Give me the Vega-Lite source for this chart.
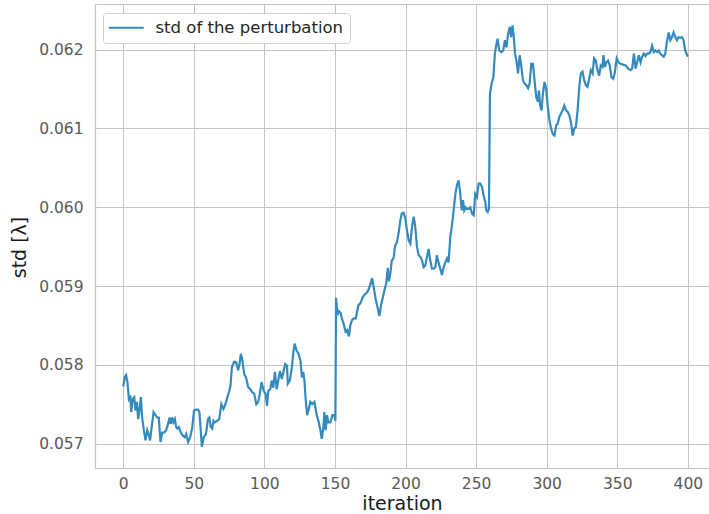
{
  "$schema": "https://vega.github.io/schema/vega-lite/v6.json",
  "width": 614,
  "height": 464,
  "autosize": {"type": "none"},
  "padding": {"left": 95, "top": 4, "right": 0, "bottom": 46},
  "background": "white",
  "config": {
    "view": {"stroke": null},
    "font": "DejaVu Sans",
    "axis": {
      "domainColor": "#c4c4c4",
      "domainWidth": 1.2,
      "gridColor": "#c4c4c4",
      "gridWidth": 1,
      "gridOpacity": 1,
      "ticks": false,
      "labelFont": "DejaVu Sans",
      "labelFontSize": 15.5,
      "labelColor": "#595959",
      "titleFont": "DejaVu Sans",
      "titleFontSize": 19,
      "titleFontWeight": "normal",
      "titleColor": "#1a1a1a"
    }
  },
  "resolve": {"axis": {"x": "independent"}},
  "data": {
    "values": [
      {"i":0,"v":0.057725},{"i":1.2,"v":0.05785},{"i":2,"v":0.05787},{"i":3,"v":0.05778},{"i":4,"v":0.05757},{"i":5,"v":0.05761},{"i":5.6,"v":0.0574},{"i":6.8,"v":0.05757},{"i":7.8,"v":0.05759},{"i":8.7,"v":0.05742},{"i":9.7,"v":0.05753},{"i":10.6,"v":0.05731},{"i":11.6,"v":0.05744},{"i":12.5,"v":0.05759},{"i":13.4,"v":0.05733},{"i":14.6,"v":0.05717},{"i":15.8,"v":0.05704},{"i":17,"v":0.05717},{"i":18,"v":0.05712},{"i":19,"v":0.05704},{"i":20,"v":0.05719},{"i":21.5,"v":0.0574},{"i":22.9,"v":0.05736},{"i":24.3,"v":0.05733},{"i":25.2,"v":0.05733},{"i":26.4,"v":0.05702},{"i":27.6,"v":0.05714},{"i":29,"v":0.05714},{"i":30.4,"v":0.05717},{"i":31.8,"v":0.05725},{"i":32.8,"v":0.05733},{"i":33.7,"v":0.05725},{"i":34.7,"v":0.05733},{"i":35.6,"v":0.05727},{"i":36.6,"v":0.05731},{"i":37.5,"v":0.05721},{"i":38.4,"v":0.05719},{"i":39.4,"v":0.05721},{"i":40.8,"v":0.05714},{"i":42.2,"v":0.0571},{"i":43.6,"v":0.05708},{"i":44.6,"v":0.05712},{"i":46,"v":0.05702},{"i":47.4,"v":0.05708},{"i":48.8,"v":0.05719},{"i":50.2,"v":0.05742},{"i":51.6,"v":0.05743},{"i":53,"v":0.05743},{"i":54,"v":0.0574},{"i":54.9,"v":0.05717},{"i":55.7,"v":0.05696},{"i":57,"v":0.05708},{"i":58.6,"v":0.05712},{"i":60,"v":0.05731},{"i":61,"v":0.05733},{"i":62,"v":0.05721},{"i":63,"v":0.05719},{"i":64,"v":0.05729},{"i":65,"v":0.05727},{"i":66.7,"v":0.05729},{"i":68,"v":0.05731},{"i":69.5,"v":0.0575},{"i":71,"v":0.05744},{"i":72.4,"v":0.0575},{"i":73.8,"v":0.05759},{"i":75.2,"v":0.05767},{"i":76,"v":0.05774},{"i":77,"v":0.05797},{"i":78.6,"v":0.05804},{"i":80,"v":0.05803},{"i":81.4,"v":0.05793},{"i":82.4,"v":0.05801},{"i":83.3,"v":0.05814},{"i":84.3,"v":0.05807},{"i":85.7,"v":0.05788},{"i":87,"v":0.05784},{"i":88.5,"v":0.05772},{"i":90,"v":0.05769},{"i":91.4,"v":0.05765},{"i":92.8,"v":0.05763},{"i":94.3,"v":0.0575},{"i":95.7,"v":0.05753},{"i":97.1,"v":0.05767},{"i":98,"v":0.05778},{"i":99.5,"v":0.05767},{"i":100.9,"v":0.05763},{"i":101.9,"v":0.05748},{"i":102.8,"v":0.05767},{"i":104.2,"v":0.05769},{"i":105.2,"v":0.0578},{"i":106.3,"v":0.05771},{"i":107.5,"v":0.05791},{"i":108.7,"v":0.05769},{"i":110,"v":0.05782},{"i":111,"v":0.05792},{"i":112.4,"v":0.05782},{"i":113.6,"v":0.05792},{"i":114.8,"v":0.05801},{"i":116,"v":0.05799},{"i":116.6,"v":0.05776},{"i":118,"v":0.0578},{"i":119.5,"v":0.05797},{"i":120.4,"v":0.05814},{"i":121.4,"v":0.05827},{"i":122.8,"v":0.05818},{"i":124.2,"v":0.05814},{"i":125.6,"v":0.05805},{"i":126.6,"v":0.05784},{"i":127.5,"v":0.05791},{"i":128.4,"v":0.0578},{"i":129.3,"v":0.05755},{"i":130.3,"v":0.05736},{"i":131.2,"v":0.05742},{"i":132.6,"v":0.05753},{"i":134,"v":0.0575},{"i":135.5,"v":0.05753},{"i":136.9,"v":0.05738},{"i":138.3,"v":0.05729},{"i":139.7,"v":0.05717},{"i":140.6,"v":0.05706},{"i":141.8,"v":0.05721},{"i":142.5,"v":0.0574},{"i":143.4,"v":0.05717},{"i":144.4,"v":0.05736},{"i":145.3,"v":0.05727},{"i":146.7,"v":0.05727},{"i":148.2,"v":0.05736},{"i":149.6,"v":0.05736},{"i":150.3,"v":0.05729},{"i":150.8,"v":0.05885},{"i":151.8,"v":0.05863},{"i":152.8,"v":0.05868},{"i":154,"v":0.05866},{"i":155.2,"v":0.05857},{"i":156.3,"v":0.05851},{"i":157.5,"v":0.05842},{"i":158.7,"v":0.05844},{"i":159.9,"v":0.05836},{"i":161,"v":0.05851},{"i":162.2,"v":0.05857},{"i":163.4,"v":0.05859},{"i":164.8,"v":0.05859},{"i":165.7,"v":0.05868},{"i":166.7,"v":0.05876},{"i":168,"v":0.05878},{"i":169.5,"v":0.05885},{"i":170.9,"v":0.05889},{"i":172.3,"v":0.05891},{"i":173.7,"v":0.05895},{"i":175.1,"v":0.05902},{"i":176.3,"v":0.0591},{"i":177.5,"v":0.05898},{"i":178.9,"v":0.05883},{"i":180.3,"v":0.05872},{"i":181.5,"v":0.05862},{"i":182.7,"v":0.05876},{"i":184.1,"v":0.05887},{"i":185.5,"v":0.05898},{"i":186.4,"v":0.05904},{"i":187.4,"v":0.05923},{"i":188.3,"v":0.05906},{"i":189.3,"v":0.05917},{"i":190.2,"v":0.05932},{"i":191.6,"v":0.05936},{"i":192.6,"v":0.05951},{"i":194,"v":0.05956},{"i":195.4,"v":0.05971},{"i":196.3,"v":0.05983},{"i":197.3,"v":0.05992},{"i":198.7,"v":0.05993},{"i":199.8,"v":0.05986},{"i":201,"v":0.05971},{"i":202.2,"v":0.05958},{"i":203.4,"v":0.05954},{"i":204.6,"v":0.05975},{"i":205.8,"v":0.05988},{"i":206.9,"v":0.05975},{"i":208.1,"v":0.0595},{"i":209.3,"v":0.05939},{"i":210.5,"v":0.05937},{"i":211.6,"v":0.05933},{"i":212.8,"v":0.05924},{"i":214,"v":0.05926},{"i":215.2,"v":0.05937},{"i":216.3,"v":0.05947},{"i":217.5,"v":0.05933},{"i":218.7,"v":0.05922},{"i":219.9,"v":0.05922},{"i":221.1,"v":0.05924},{"i":222.2,"v":0.05939},{"i":223.4,"v":0.0593},{"i":224.6,"v":0.05922},{"i":225.8,"v":0.05914},{"i":227,"v":0.05924},{"i":228.2,"v":0.0593},{"i":229.4,"v":0.05935},{"i":230.5,"v":0.0593},{"i":231.7,"v":0.05962},{"i":232.9,"v":0.05977},{"i":234.1,"v":0.05996},{"i":235.3,"v":0.06017},{"i":236.4,"v":0.06028},{"i":237.6,"v":0.06034},{"i":238.8,"v":0.06017},{"i":239.8,"v":0.05996},{"i":240.7,"v":0.06009},{"i":241.6,"v":0.05996},{"i":242.6,"v":0.06},{"i":243.5,"v":0.05998},{"i":244.7,"v":0.05998},{"i":245.9,"v":0.06},{"i":247.1,"v":0.05992},{"i":248.3,"v":0.0599},{"i":249.4,"v":0.06017},{"i":250.6,"v":0.06013},{"i":251.8,"v":0.0603},{"i":253,"v":0.0603},{"i":254.2,"v":0.06026},{"i":255.3,"v":0.06015},{"i":256.5,"v":0.06007},{"i":257.2,"v":0.05996},{"i":258.2,"v":0.05994},{"i":259.1,"v":0.05998},{"i":259.8,"v":0.06144},{"i":261,"v":0.06157},{"i":262.2,"v":0.06165},{"i":263.3,"v":0.06195},{"i":264.5,"v":0.06208},{"i":265.2,"v":0.06214},{"i":266.4,"v":0.06199},{"i":268,"v":0.06197},{"i":269.2,"v":0.06199},{"i":270.4,"v":0.06212},{"i":271.5,"v":0.06203},{"i":272.7,"v":0.0622},{"i":273.9,"v":0.06229},{"i":274.8,"v":0.06216},{"i":275.8,"v":0.06231},{"i":276.7,"v":0.06216},{"i":277.6,"v":0.06195},{"i":278.6,"v":0.06186},{"i":279.7,"v":0.0617},{"i":280.9,"v":0.06193},{"i":282.1,"v":0.06178},{"i":283.2,"v":0.06161},{"i":284.4,"v":0.06157},{"i":285.6,"v":0.06155},{"i":286.8,"v":0.06151},{"i":287.9,"v":0.06157},{"i":289.1,"v":0.06182},{"i":290.3,"v":0.06182},{"i":291.4,"v":0.06161},{"i":292.6,"v":0.0614},{"i":293.8,"v":0.06134},{"i":294.5,"v":0.06148},{"i":295.4,"v":0.06129},{"i":296.4,"v":0.06123},{"i":297.3,"v":0.06144},{"i":298.5,"v":0.06159},{"i":299.6,"v":0.06151},{"i":300.8,"v":0.06127},{"i":302,"v":0.0611},{"i":303.1,"v":0.061},{"i":304.3,"v":0.06093},{"i":305.5,"v":0.06091},{"i":306.7,"v":0.06104},{"i":307.8,"v":0.06106},{"i":309,"v":0.06115},{"i":310.2,"v":0.06119},{"i":311.3,"v":0.06123},{"i":312.5,"v":0.06129},{"i":313.7,"v":0.06123},{"i":314.9,"v":0.06121},{"i":316,"v":0.06117},{"i":317.2,"v":0.06108},{"i":318.4,"v":0.06091},{"i":319.6,"v":0.061},{"i":320.7,"v":0.06102},{"i":321.9,"v":0.06123},{"i":323.1,"v":0.06153},{"i":324.2,"v":0.0617},{"i":325.4,"v":0.06172},{"i":326.6,"v":0.06161},{"i":327.8,"v":0.06155},{"i":328.9,"v":0.06153},{"i":330.1,"v":0.06163},{"i":331.3,"v":0.06174},{"i":332.5,"v":0.0617},{"i":333.6,"v":0.06189},{"i":334.8,"v":0.06186},{"i":336,"v":0.06174},{"i":337.2,"v":0.06167},{"i":338.3,"v":0.0618},{"i":339.5,"v":0.06178},{"i":340.2,"v":0.06193},{"i":341.2,"v":0.06178},{"i":342.3,"v":0.06184},{"i":343.5,"v":0.06186},{"i":344.7,"v":0.0618},{"i":345.9,"v":0.06165},{"i":347.1,"v":0.06163},{"i":348.2,"v":0.0617},{"i":349.6,"v":0.06189},{"i":350.8,"v":0.06184},{"i":352.4,"v":0.06182},{"i":354.1,"v":0.06181},{"i":356,"v":0.0618},{"i":357.8,"v":0.06176},{"i":359.5,"v":0.06174},{"i":360.6,"v":0.06176},{"i":361.8,"v":0.06195},{"i":363,"v":0.06176},{"i":364.1,"v":0.06184},{"i":365.3,"v":0.06193},{"i":366.5,"v":0.06184},{"i":367.6,"v":0.06191},{"i":368.8,"v":0.06195},{"i":370,"v":0.06192},{"i":371.2,"v":0.06195},{"i":372.3,"v":0.06195},{"i":373.5,"v":0.06197},{"i":374.7,"v":0.06205},{"i":375.9,"v":0.06197},{"i":377,"v":0.06199},{"i":378.2,"v":0.06197},{"i":379.4,"v":0.06199},{"i":380.5,"v":0.06195},{"i":381.7,"v":0.06193},{"i":382.9,"v":0.06191},{"i":384,"v":0.06195},{"i":385.2,"v":0.0621},{"i":386.4,"v":0.06222},{"i":387.6,"v":0.06212},{"i":388.8,"v":0.06216},{"i":389.9,"v":0.06222},{"i":391.1,"v":0.06216},{"i":392.3,"v":0.06212},{"i":393.4,"v":0.06216},{"i":394.6,"v":0.06215},{"i":395.8,"v":0.06216},{"i":397,"v":0.06212},{"i":398.1,"v":0.06199},{"i":400,"v":0.06191}
    ]
  },
  "layer": [
    {
      "mark": {"type": "line", "strokeWidth": 2.2, "clip": true},
      "encoding": {
        "x": {
          "field": "i", "type": "quantitative",
          "scale": {"domain": [-20, 415], "nice": false, "zero": false},
          "axis": {"orient": "bottom", "values": [0, 50, 100, 150, 200, 250, 300, 350, 400], "title": "iteration", "labelPadding": 8, "titlePadding": 3, "grid": true}
        },
        "y": {
          "field": "v", "type": "quantitative",
          "scale": {"domain": [0.05669, 0.06258], "nice": false, "zero": false},
          "axis": {"values": [0.057, 0.058, 0.059, 0.06, 0.061, 0.062], "format": ".3f", "title": "std [λ]", "labelPadding": 12, "titlePadding": 9, "titleY": 243, "grid": true}
        },
        "color": {
          "datum": "std of the perturbation", "type": "nominal",
          "scale": {"range": ["#348ABD"]},
          "legend": {
            "title": null, "orient": "none", "legendX": 8, "legendY": 9,
            "symbolType": "M-2.5,0H2.5", "symbolSize": 196, "symbolStrokeWidth": 2,
            "symbolOffset": 8.5, "labelOffset": 21, "labelLimit": 400,
            "labelFont": "DejaVu Sans", "labelFontSize": 16.5, "labelColor": "#262626",
            "strokeColor": "#d0d0d0", "fillColor": "white", "cornerRadius": 3, "padding": 6.5
          }
        }
      }
    },
    {
      "mark": {"type": "rule", "opacity": 0},
      "encoding": {
        "x": {"datum": 0, "type": "quantitative",
          "axis": {"orient": "top", "labels": false, "ticks": false, "grid": false, "title": null, "domain": true}}
      }
    }
  ]
}
